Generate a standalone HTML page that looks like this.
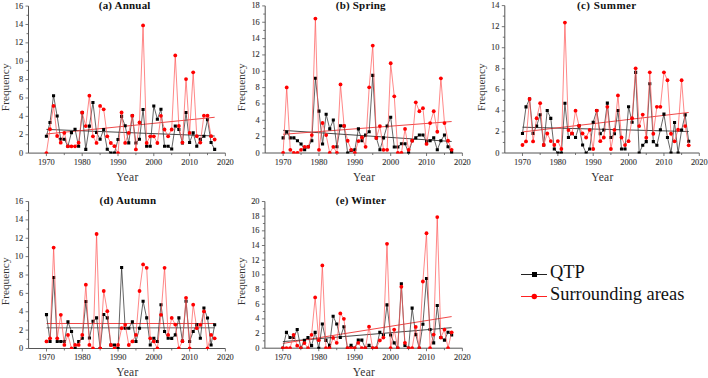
<!DOCTYPE html><html><head><meta charset="utf-8"><style>html,body{margin:0;padding:0;background:#fff;width:708px;height:378px;overflow:hidden}svg{display:block}text{font-family:"Liberation Serif",serif}</style></head><body><svg width="708" height="378" viewBox="0 0 708 378"><g><path d="M28.5 6.1V153.1H225.4" fill="none" stroke="#555" stroke-width="1"/><text x="23.1" y="155.6" font-size="8.4" text-anchor="end" fill="#333" stroke="#333" stroke-width="0.1">0</text><text x="23.1" y="137.22" font-size="8.4" text-anchor="end" fill="#333" stroke="#333" stroke-width="0.1">2</text><text x="23.1" y="118.85" font-size="8.4" text-anchor="end" fill="#333" stroke="#333" stroke-width="0.1">4</text><text x="23.1" y="100.47" font-size="8.4" text-anchor="end" fill="#333" stroke="#333" stroke-width="0.1">6</text><text x="23.1" y="82.1" font-size="8.4" text-anchor="end" fill="#333" stroke="#333" stroke-width="0.1">8</text><text x="23.1" y="63.72" font-size="8.4" text-anchor="end" fill="#333" stroke="#333" stroke-width="0.1">10</text><text x="23.1" y="45.35" font-size="8.4" text-anchor="end" fill="#333" stroke="#333" stroke-width="0.1">12</text><text x="23.1" y="26.97" font-size="8.4" text-anchor="end" fill="#333" stroke="#333" stroke-width="0.1">14</text><text x="23.1" y="8.6" font-size="8.4" text-anchor="end" fill="#333" stroke="#333" stroke-width="0.1">16</text><text x="46.4" y="164.6" font-size="8.4" text-anchor="middle" fill="#333" stroke="#333" stroke-width="0.1">1970</text><text x="82.2" y="164.6" font-size="8.4" text-anchor="middle" fill="#333" stroke="#333" stroke-width="0.1">1980</text><text x="118" y="164.6" font-size="8.4" text-anchor="middle" fill="#333" stroke="#333" stroke-width="0.1">1990</text><text x="153.8" y="164.6" font-size="8.4" text-anchor="middle" fill="#333" stroke="#333" stroke-width="0.1">2000</text><text x="189.6" y="164.6" font-size="8.4" text-anchor="middle" fill="#333" stroke="#333" stroke-width="0.1">2010</text><text x="225.4" y="164.6" font-size="8.4" text-anchor="middle" fill="#333" stroke="#333" stroke-width="0.1">2020</text><path d="M25.5 153.1H28.5M26.5 143.91H28.5M25.5 134.72H28.5M26.5 125.54H28.5M25.5 116.35H28.5M26.5 107.16H28.5M25.5 97.97H28.5M26.5 88.79H28.5M25.5 79.6H28.5M26.5 70.41H28.5M25.5 61.22H28.5M26.5 52.04H28.5M25.5 42.85H28.5M26.5 33.66H28.5M25.5 24.47H28.5M26.5 15.29H28.5M25.5 6.1H28.5M46.4 153.1V156.1M64.3 153.1V155.1M82.2 153.1V156.1M100.1 153.1V155.1M118 153.1V156.1M135.9 153.1V155.1M153.8 153.1V156.1M171.7 153.1V155.1M189.6 153.1V156.1M207.5 153.1V155.1M225.4 153.1V156.1" fill="none" stroke="#555" stroke-width="0.8"/><text x="98.8" y="8.7" font-size="11" font-weight="bold" letter-spacing="0.2" fill="#111">(a) Annual</text><text x="127.35" y="180.7" font-size="11.5" letter-spacing="0.3" text-anchor="middle" fill="#333">Year</text><text transform="translate(8.7 87.3) rotate(-90)" font-size="11.3" text-anchor="middle" fill="#333">Frequency</text><clipPath id="c0"><rect x="18.5" y="0" width="216.9" height="153.6"/></clipPath><g clip-path="url(#c0)"><line x1="46.4" y1="129.4" x2="214.66" y2="136.01" stroke="#333" stroke-width="0.9"/><line x1="46.4" y1="133.99" x2="214.66" y2="117.27" stroke="#e33" stroke-width="0.9"/><polyline points="46.4,136.29 49.98,122.51 53.56,95.68 57.14,115.98 60.72,139.23 64.3,139.23 67.88,146.3 71.46,132.61 75.04,129.21 78.62,146.3 82.2,112.67 85.78,149.42 89.36,126.09 92.94,102.57 96.52,132.52 100.1,139.23 103.68,129.49 107.26,149.24 110.84,153.1 114.42,153.1 118,139.5 121.58,116.35 125.16,125.81 128.74,142.9 132.32,115.71 135.9,142.99 139.48,139.23 143.06,109.46 146.64,146.21 150.22,146.21 153.8,105.97 157.38,119.2 160.96,109.28 164.54,146.21 168.12,146.21 171.7,148.97 175.28,126 178.86,129.49 182.44,142.9 186.02,112.49 189.6,142.53 193.18,132.89 196.76,146.3 200.34,139.41 203.92,136.19 207.5,119.75 211.08,142.53 214.66,149.42" fill="none" stroke="#333" stroke-width="0.75"/><path d="M44.85 134.74h3.1v3.1h-3.1zM48.43 120.96h3.1v3.1h-3.1zM52.01 94.13h3.1v3.1h-3.1zM55.59 114.43h3.1v3.1h-3.1zM59.17 137.68h3.1v3.1h-3.1zM62.75 137.68h3.1v3.1h-3.1zM66.33 144.75h3.1v3.1h-3.1zM69.91 131.06h3.1v3.1h-3.1zM73.49 127.66h3.1v3.1h-3.1zM77.07 144.75h3.1v3.1h-3.1zM80.65 111.12h3.1v3.1h-3.1zM84.23 147.87h3.1v3.1h-3.1zM87.81 124.54h3.1v3.1h-3.1zM91.39 101.02h3.1v3.1h-3.1zM94.97 130.97h3.1v3.1h-3.1zM98.55 137.68h3.1v3.1h-3.1zM102.13 127.94h3.1v3.1h-3.1zM105.71 147.69h3.1v3.1h-3.1zM109.29 151.55h3.1v3.1h-3.1zM112.87 151.55h3.1v3.1h-3.1zM116.45 137.95h3.1v3.1h-3.1zM120.03 114.8h3.1v3.1h-3.1zM123.61 124.26h3.1v3.1h-3.1zM127.19 141.35h3.1v3.1h-3.1zM130.77 114.16h3.1v3.1h-3.1zM134.35 141.44h3.1v3.1h-3.1zM137.93 137.68h3.1v3.1h-3.1zM141.51 107.91h3.1v3.1h-3.1zM145.09 144.66h3.1v3.1h-3.1zM148.67 144.66h3.1v3.1h-3.1zM152.25 104.42h3.1v3.1h-3.1zM155.83 117.65h3.1v3.1h-3.1zM159.41 107.73h3.1v3.1h-3.1zM162.99 144.66h3.1v3.1h-3.1zM166.57 144.66h3.1v3.1h-3.1zM170.15 147.42h3.1v3.1h-3.1zM173.73 124.45h3.1v3.1h-3.1zM177.31 127.94h3.1v3.1h-3.1zM180.89 141.35h3.1v3.1h-3.1zM184.47 110.94h3.1v3.1h-3.1zM188.05 140.98h3.1v3.1h-3.1zM191.63 131.34h3.1v3.1h-3.1zM195.21 144.75h3.1v3.1h-3.1zM198.79 137.86h3.1v3.1h-3.1zM202.37 134.64h3.1v3.1h-3.1zM205.95 118.2h3.1v3.1h-3.1zM209.53 140.98h3.1v3.1h-3.1zM213.11 147.87h3.1v3.1h-3.1z" fill="#000"/><polyline points="46.4,153.1 49.98,129.21 53.56,105.88 57.14,136.01 60.72,142.72 64.3,132.89 67.88,146.3 71.46,146.3 75.04,146.3 78.62,142.72 82.2,112.49 85.78,126.09 89.36,95.68 92.94,136.29 96.52,142.9 100.1,105.97 103.68,109.28 107.26,136.29 110.84,142.99 114.42,146.21 118,153.1 121.58,112.49 125.16,142.9 128.74,132.89 132.32,115.71 135.9,149.42 139.48,122.51 143.06,25.39 146.64,142.99 150.22,136.29 153.8,136.29 157.38,142.99 160.96,115.8 164.54,129.49 168.12,136.29 171.7,129.49 175.28,55.44 178.86,126 182.44,142.53 186.02,79.05 189.6,132.89 193.18,72.34 196.76,136.19 200.34,142.53 203.92,115.71 207.5,115.71 211.08,136.19 214.66,139.5" fill="none" stroke="#f55" stroke-width="0.7"/><circle cx="46.4" cy="153.1" r="1.9" fill="#f00"/><circle cx="49.98" cy="129.21" r="1.9" fill="#f00"/><circle cx="53.56" cy="105.88" r="1.9" fill="#f00"/><circle cx="57.14" cy="136.01" r="1.9" fill="#f00"/><circle cx="60.72" cy="142.72" r="1.9" fill="#f00"/><circle cx="64.3" cy="132.89" r="1.9" fill="#f00"/><circle cx="67.88" cy="146.3" r="1.9" fill="#f00"/><circle cx="71.46" cy="146.3" r="1.9" fill="#f00"/><circle cx="75.04" cy="146.3" r="1.9" fill="#f00"/><circle cx="78.62" cy="142.72" r="1.9" fill="#f00"/><circle cx="82.2" cy="112.49" r="1.9" fill="#f00"/><circle cx="85.78" cy="126.09" r="1.9" fill="#f00"/><circle cx="89.36" cy="95.68" r="1.9" fill="#f00"/><circle cx="92.94" cy="136.29" r="1.9" fill="#f00"/><circle cx="96.52" cy="142.9" r="1.9" fill="#f00"/><circle cx="100.1" cy="105.97" r="1.9" fill="#f00"/><circle cx="103.68" cy="109.28" r="1.9" fill="#f00"/><circle cx="107.26" cy="136.29" r="1.9" fill="#f00"/><circle cx="110.84" cy="142.99" r="1.9" fill="#f00"/><circle cx="114.42" cy="146.21" r="1.9" fill="#f00"/><circle cx="118" cy="153.1" r="1.9" fill="#f00"/><circle cx="121.58" cy="112.49" r="1.9" fill="#f00"/><circle cx="125.16" cy="142.9" r="1.9" fill="#f00"/><circle cx="128.74" cy="132.89" r="1.9" fill="#f00"/><circle cx="132.32" cy="115.71" r="1.9" fill="#f00"/><circle cx="135.9" cy="149.42" r="1.9" fill="#f00"/><circle cx="139.48" cy="122.51" r="1.9" fill="#f00"/><circle cx="143.06" cy="25.39" r="1.9" fill="#f00"/><circle cx="146.64" cy="142.99" r="1.9" fill="#f00"/><circle cx="150.22" cy="136.29" r="1.9" fill="#f00"/><circle cx="153.8" cy="136.29" r="1.9" fill="#f00"/><circle cx="157.38" cy="142.99" r="1.9" fill="#f00"/><circle cx="160.96" cy="115.8" r="1.9" fill="#f00"/><circle cx="164.54" cy="129.49" r="1.9" fill="#f00"/><circle cx="168.12" cy="136.29" r="1.9" fill="#f00"/><circle cx="171.7" cy="129.49" r="1.9" fill="#f00"/><circle cx="175.28" cy="55.44" r="1.9" fill="#f00"/><circle cx="178.86" cy="126" r="1.9" fill="#f00"/><circle cx="182.44" cy="142.53" r="1.9" fill="#f00"/><circle cx="186.02" cy="79.05" r="1.9" fill="#f00"/><circle cx="189.6" cy="132.89" r="1.9" fill="#f00"/><circle cx="193.18" cy="72.34" r="1.9" fill="#f00"/><circle cx="196.76" cy="136.19" r="1.9" fill="#f00"/><circle cx="200.34" cy="142.53" r="1.9" fill="#f00"/><circle cx="203.92" cy="115.71" r="1.9" fill="#f00"/><circle cx="207.5" cy="115.71" r="1.9" fill="#f00"/><circle cx="211.08" cy="136.19" r="1.9" fill="#f00"/><circle cx="214.66" cy="139.5" r="1.9" fill="#f00"/></g></g><g><path d="M265.2 5.9V153H462.4" fill="none" stroke="#555" stroke-width="1"/><text x="259.8" y="155.5" font-size="8.4" text-anchor="end" fill="#333" stroke="#333" stroke-width="0.1">0</text><text x="259.8" y="139.16" font-size="8.4" text-anchor="end" fill="#333" stroke="#333" stroke-width="0.1">2</text><text x="259.8" y="122.81" font-size="8.4" text-anchor="end" fill="#333" stroke="#333" stroke-width="0.1">4</text><text x="259.8" y="106.47" font-size="8.4" text-anchor="end" fill="#333" stroke="#333" stroke-width="0.1">6</text><text x="259.8" y="90.12" font-size="8.4" text-anchor="end" fill="#333" stroke="#333" stroke-width="0.1">8</text><text x="259.8" y="73.78" font-size="8.4" text-anchor="end" fill="#333" stroke="#333" stroke-width="0.1">10</text><text x="259.8" y="57.43" font-size="8.4" text-anchor="end" fill="#333" stroke="#333" stroke-width="0.1">12</text><text x="259.8" y="41.09" font-size="8.4" text-anchor="end" fill="#333" stroke="#333" stroke-width="0.1">14</text><text x="259.8" y="24.74" font-size="8.4" text-anchor="end" fill="#333" stroke="#333" stroke-width="0.1">16</text><text x="259.8" y="8.4" font-size="8.4" text-anchor="end" fill="#333" stroke="#333" stroke-width="0.1">18</text><text x="283.13" y="164.5" font-size="8.4" text-anchor="middle" fill="#333" stroke="#333" stroke-width="0.1">1970</text><text x="318.98" y="164.5" font-size="8.4" text-anchor="middle" fill="#333" stroke="#333" stroke-width="0.1">1980</text><text x="354.84" y="164.5" font-size="8.4" text-anchor="middle" fill="#333" stroke="#333" stroke-width="0.1">1990</text><text x="390.69" y="164.5" font-size="8.4" text-anchor="middle" fill="#333" stroke="#333" stroke-width="0.1">2000</text><text x="426.55" y="164.5" font-size="8.4" text-anchor="middle" fill="#333" stroke="#333" stroke-width="0.1">2010</text><text x="462.4" y="164.5" font-size="8.4" text-anchor="middle" fill="#333" stroke="#333" stroke-width="0.1">2020</text><path d="M262.2 153H265.2M263.2 144.83H265.2M262.2 136.66H265.2M263.2 128.48H265.2M262.2 120.31H265.2M263.2 112.14H265.2M262.2 103.97H265.2M263.2 95.79H265.2M262.2 87.62H265.2M263.2 79.45H265.2M262.2 71.28H265.2M263.2 63.11H265.2M262.2 54.93H265.2M263.2 46.76H265.2M262.2 38.59H265.2M263.2 30.42H265.2M262.2 22.24H265.2M263.2 14.07H265.2M262.2 5.9H265.2M283.13 153V156M301.05 153V155M318.98 153V156M336.91 153V155M354.84 153V156M372.76 153V155M390.69 153V156M408.62 153V155M426.55 153V156M444.47 153V155M462.4 153V156" fill="none" stroke="#555" stroke-width="0.8"/><text x="335.8" y="8.7" font-size="11" font-weight="bold" letter-spacing="0.2" fill="#111">(b) Spring</text><text x="364.2" y="180.6" font-size="11.5" letter-spacing="0.3" text-anchor="middle" fill="#333">Year</text><text transform="translate(245.4 87.3) rotate(-90)" font-size="11.3" text-anchor="middle" fill="#333">Frequency</text><clipPath id="c1"><rect x="255.2" y="0" width="217.2" height="153.5"/></clipPath><g clip-path="url(#c1)"><line x1="283.13" y1="130.36" x2="451.64" y2="141.48" stroke="#333" stroke-width="0.9"/><line x1="283.13" y1="134.29" x2="451.64" y2="121.54" stroke="#e33" stroke-width="0.9"/><polyline points="283.13,137.88 286.71,132 290.3,137.88 293.88,137.88 297.47,140.74 301.05,143.93 304.64,149.81 308.23,146.79 311.81,140.74 315.4,78.31 318.98,111.08 322.57,143.93 326.15,114.26 329.74,128.89 333.32,119.98 336.91,146.79 340.49,125.79 344.08,126.03 347.67,153 351.25,150.55 354.84,149.81 358.42,128.89 362.01,140.74 365.59,135.1 369.18,131.75 372.76,75.36 376.35,137.88 379.93,149.81 383.52,137.88 387.11,126.03 390.69,117.29 394.28,146.95 397.86,146.95 401.45,143.77 405.03,143.77 408.62,153 412.2,140.74 415.79,137.88 419.37,134.94 422.96,134.94 426.55,141.56 430.13,140.74 433.72,137.88 437.3,149.81 440.89,140.74 444.47,134.94 448.06,146.79 451.64,152.59" fill="none" stroke="#333" stroke-width="0.75"/><path d="M281.58 136.33h3.1v3.1h-3.1zM285.16 130.45h3.1v3.1h-3.1zM288.75 136.33h3.1v3.1h-3.1zM292.33 136.33h3.1v3.1h-3.1zM295.92 139.19h3.1v3.1h-3.1zM299.5 142.38h3.1v3.1h-3.1zM303.09 148.26h3.1v3.1h-3.1zM306.68 145.24h3.1v3.1h-3.1zM310.26 139.19h3.1v3.1h-3.1zM313.85 76.76h3.1v3.1h-3.1zM317.43 109.53h3.1v3.1h-3.1zM321.02 142.38h3.1v3.1h-3.1zM324.6 112.71h3.1v3.1h-3.1zM328.19 127.34h3.1v3.1h-3.1zM331.77 118.43h3.1v3.1h-3.1zM335.36 145.24h3.1v3.1h-3.1zM338.94 124.24h3.1v3.1h-3.1zM342.53 124.48h3.1v3.1h-3.1zM346.12 151.45h3.1v3.1h-3.1zM349.7 149h3.1v3.1h-3.1zM353.29 148.26h3.1v3.1h-3.1zM356.87 127.34h3.1v3.1h-3.1zM360.46 139.19h3.1v3.1h-3.1zM364.04 133.55h3.1v3.1h-3.1zM367.63 130.2h3.1v3.1h-3.1zM371.21 73.81h3.1v3.1h-3.1zM374.8 136.33h3.1v3.1h-3.1zM378.38 148.26h3.1v3.1h-3.1zM381.97 136.33h3.1v3.1h-3.1zM385.56 124.48h3.1v3.1h-3.1zM389.14 115.74h3.1v3.1h-3.1zM392.73 145.4h3.1v3.1h-3.1zM396.31 145.4h3.1v3.1h-3.1zM399.9 142.22h3.1v3.1h-3.1zM403.48 142.22h3.1v3.1h-3.1zM407.07 151.45h3.1v3.1h-3.1zM410.65 139.19h3.1v3.1h-3.1zM414.24 136.33h3.1v3.1h-3.1zM417.82 133.39h3.1v3.1h-3.1zM421.41 133.39h3.1v3.1h-3.1zM425 140.01h3.1v3.1h-3.1zM428.58 139.19h3.1v3.1h-3.1zM432.17 136.33h3.1v3.1h-3.1zM435.75 148.26h3.1v3.1h-3.1zM439.34 139.19h3.1v3.1h-3.1zM442.92 133.39h3.1v3.1h-3.1zM446.51 145.24h3.1v3.1h-3.1zM450.09 151.04h3.1v3.1h-3.1z" fill="#000"/><polyline points="283.13,153 286.71,87.38 290.3,149.81 293.88,153 297.47,153 301.05,149.81 304.64,146.79 308.23,146.79 311.81,135.1 315.4,18.57 318.98,149.81 322.57,123.01 326.15,135.1 329.74,153 333.32,146.79 336.91,153 340.49,84.44 344.08,125.79 347.67,140.74 351.25,149.81 354.84,153 358.42,141.07 362.01,137.47 365.59,146.79 369.18,87.3 372.76,45.62 376.35,137.88 379.93,126.03 383.52,149.81 387.11,149.81 390.69,63.27 394.28,96.28 397.86,153 401.45,153 405.03,128.97 408.62,149.81 412.2,140.74 415.79,102.33 419.37,111.24 422.96,108.22 426.55,143.93 430.13,123.09 433.72,111.24 437.3,131.75 440.89,78.31 444.47,123.09 448.06,140.74 451.64,149.81" fill="none" stroke="#f55" stroke-width="0.7"/><circle cx="283.13" cy="153" r="1.9" fill="#f00"/><circle cx="286.71" cy="87.38" r="1.9" fill="#f00"/><circle cx="290.3" cy="149.81" r="1.9" fill="#f00"/><circle cx="293.88" cy="153" r="1.9" fill="#f00"/><circle cx="297.47" cy="153" r="1.9" fill="#f00"/><circle cx="301.05" cy="149.81" r="1.9" fill="#f00"/><circle cx="304.64" cy="146.79" r="1.9" fill="#f00"/><circle cx="308.23" cy="146.79" r="1.9" fill="#f00"/><circle cx="311.81" cy="135.1" r="1.9" fill="#f00"/><circle cx="315.4" cy="18.57" r="1.9" fill="#f00"/><circle cx="318.98" cy="149.81" r="1.9" fill="#f00"/><circle cx="322.57" cy="123.01" r="1.9" fill="#f00"/><circle cx="326.15" cy="135.1" r="1.9" fill="#f00"/><circle cx="329.74" cy="153" r="1.9" fill="#f00"/><circle cx="333.32" cy="146.79" r="1.9" fill="#f00"/><circle cx="336.91" cy="153" r="1.9" fill="#f00"/><circle cx="340.49" cy="84.44" r="1.9" fill="#f00"/><circle cx="344.08" cy="125.79" r="1.9" fill="#f00"/><circle cx="347.67" cy="140.74" r="1.9" fill="#f00"/><circle cx="351.25" cy="149.81" r="1.9" fill="#f00"/><circle cx="354.84" cy="153" r="1.9" fill="#f00"/><circle cx="358.42" cy="141.07" r="1.9" fill="#f00"/><circle cx="362.01" cy="137.47" r="1.9" fill="#f00"/><circle cx="365.59" cy="146.79" r="1.9" fill="#f00"/><circle cx="369.18" cy="87.3" r="1.9" fill="#f00"/><circle cx="372.76" cy="45.62" r="1.9" fill="#f00"/><circle cx="376.35" cy="137.88" r="1.9" fill="#f00"/><circle cx="379.93" cy="126.03" r="1.9" fill="#f00"/><circle cx="383.52" cy="149.81" r="1.9" fill="#f00"/><circle cx="387.11" cy="149.81" r="1.9" fill="#f00"/><circle cx="390.69" cy="63.27" r="1.9" fill="#f00"/><circle cx="394.28" cy="96.28" r="1.9" fill="#f00"/><circle cx="397.86" cy="153" r="1.9" fill="#f00"/><circle cx="401.45" cy="153" r="1.9" fill="#f00"/><circle cx="405.03" cy="128.97" r="1.9" fill="#f00"/><circle cx="408.62" cy="149.81" r="1.9" fill="#f00"/><circle cx="412.2" cy="140.74" r="1.9" fill="#f00"/><circle cx="415.79" cy="102.33" r="1.9" fill="#f00"/><circle cx="419.37" cy="111.24" r="1.9" fill="#f00"/><circle cx="422.96" cy="108.22" r="1.9" fill="#f00"/><circle cx="426.55" cy="143.93" r="1.9" fill="#f00"/><circle cx="430.13" cy="123.09" r="1.9" fill="#f00"/><circle cx="433.72" cy="111.24" r="1.9" fill="#f00"/><circle cx="437.3" cy="131.75" r="1.9" fill="#f00"/><circle cx="440.89" cy="78.31" r="1.9" fill="#f00"/><circle cx="444.47" cy="123.09" r="1.9" fill="#f00"/><circle cx="448.06" cy="140.74" r="1.9" fill="#f00"/><circle cx="451.64" cy="149.81" r="1.9" fill="#f00"/></g></g><g><path d="M504.8 5.6V153H699.3" fill="none" stroke="#555" stroke-width="1"/><text x="499.4" y="155.5" font-size="8.4" text-anchor="end" fill="#333" stroke="#333" stroke-width="0.1">0</text><text x="499.4" y="134.44" font-size="8.4" text-anchor="end" fill="#333" stroke="#333" stroke-width="0.1">2</text><text x="499.4" y="113.39" font-size="8.4" text-anchor="end" fill="#333" stroke="#333" stroke-width="0.1">4</text><text x="499.4" y="92.33" font-size="8.4" text-anchor="end" fill="#333" stroke="#333" stroke-width="0.1">6</text><text x="499.4" y="71.27" font-size="8.4" text-anchor="end" fill="#333" stroke="#333" stroke-width="0.1">8</text><text x="499.4" y="50.21" font-size="8.4" text-anchor="end" fill="#333" stroke="#333" stroke-width="0.1">10</text><text x="499.4" y="29.16" font-size="8.4" text-anchor="end" fill="#333" stroke="#333" stroke-width="0.1">12</text><text x="499.4" y="8.1" font-size="8.4" text-anchor="end" fill="#333" stroke="#333" stroke-width="0.1">14</text><text x="522.48" y="164.5" font-size="8.4" text-anchor="middle" fill="#333" stroke="#333" stroke-width="0.1">1970</text><text x="557.85" y="164.5" font-size="8.4" text-anchor="middle" fill="#333" stroke="#333" stroke-width="0.1">1980</text><text x="593.21" y="164.5" font-size="8.4" text-anchor="middle" fill="#333" stroke="#333" stroke-width="0.1">1990</text><text x="628.57" y="164.5" font-size="8.4" text-anchor="middle" fill="#333" stroke="#333" stroke-width="0.1">2000</text><text x="663.94" y="164.5" font-size="8.4" text-anchor="middle" fill="#333" stroke="#333" stroke-width="0.1">2010</text><text x="699.3" y="164.5" font-size="8.4" text-anchor="middle" fill="#333" stroke="#333" stroke-width="0.1">2020</text><path d="M501.8 153H504.8M502.8 142.47H504.8M501.8 131.94H504.8M502.8 121.41H504.8M501.8 110.89H504.8M502.8 100.36H504.8M501.8 89.83H504.8M502.8 79.3H504.8M501.8 68.77H504.8M502.8 58.24H504.8M501.8 47.71H504.8M502.8 37.19H504.8M501.8 26.66H504.8M502.8 16.13H504.8M501.8 5.6H504.8M522.48 153V156M540.16 153V155M557.85 153V156M575.53 153V155M593.21 153V156M610.89 153V155M628.57 153V156M646.25 153V155M663.94 153V156M681.62 153V155M699.3 153V156" fill="none" stroke="#555" stroke-width="0.8"/><text x="576.9" y="8.7" font-size="11" font-weight="bold" letter-spacing="0.45" fill="#111">(c) Summer</text><text x="602.45" y="180.6" font-size="11.5" letter-spacing="0.3" text-anchor="middle" fill="#333">Year</text><text transform="translate(485 87.1) rotate(-90)" font-size="11.3" text-anchor="middle" fill="#333">Frequency</text><clipPath id="c2"><rect x="494.8" y="0" width="214.5" height="153.5"/></clipPath><g clip-path="url(#c2)"><line x1="522.48" y1="127.2" x2="688.69" y2="131.52" stroke="#333" stroke-width="0.9"/><line x1="522.48" y1="131.94" x2="688.69" y2="112.47" stroke="#e33" stroke-width="0.9"/><polyline points="522.48,133.52 526.02,106.88 529.55,98.99 533.09,133.52 536.63,125.94 540.16,114.78 543.7,145 547.24,110.46 550.77,118.36 554.31,149 557.85,153 561.38,153 564.92,103.2 568.45,137.52 571.99,133.52 575.53,137.52 579.06,125.84 582.6,145 586.14,153 589.67,149 593.21,122.26 596.75,110.57 600.28,133.73 603.82,129.94 607.35,103.09 610.89,137.52 614.43,133.73 617.96,110.46 621.5,149 625.04,149 628.57,106.78 632.11,122.26 635.65,72.35 639.18,153 642.72,145.31 646.25,141.63 649.79,83.72 653.33,141.63 656.86,145.31 660.4,129.73 663.94,114.15 667.47,137.52 671.01,153 674.55,122.47 678.08,153 681.62,130.05 685.15,114.89 688.69,141.31" fill="none" stroke="#333" stroke-width="0.75"/><path d="M520.93 131.97h3.1v3.1h-3.1zM524.47 105.33h3.1v3.1h-3.1zM528 97.44h3.1v3.1h-3.1zM531.54 131.97h3.1v3.1h-3.1zM535.08 124.39h3.1v3.1h-3.1zM538.61 113.23h3.1v3.1h-3.1zM542.15 143.45h3.1v3.1h-3.1zM545.69 108.91h3.1v3.1h-3.1zM549.22 116.81h3.1v3.1h-3.1zM552.76 147.45h3.1v3.1h-3.1zM556.3 151.45h3.1v3.1h-3.1zM559.83 151.45h3.1v3.1h-3.1zM563.37 101.65h3.1v3.1h-3.1zM566.9 135.97h3.1v3.1h-3.1zM570.44 131.97h3.1v3.1h-3.1zM573.98 135.97h3.1v3.1h-3.1zM577.51 124.29h3.1v3.1h-3.1zM581.05 143.45h3.1v3.1h-3.1zM584.59 151.45h3.1v3.1h-3.1zM588.12 147.45h3.1v3.1h-3.1zM591.66 120.71h3.1v3.1h-3.1zM595.2 109.02h3.1v3.1h-3.1zM598.73 132.18h3.1v3.1h-3.1zM602.27 128.39h3.1v3.1h-3.1zM605.8 101.54h3.1v3.1h-3.1zM609.34 135.97h3.1v3.1h-3.1zM612.88 132.18h3.1v3.1h-3.1zM616.41 108.91h3.1v3.1h-3.1zM619.95 147.45h3.1v3.1h-3.1zM623.49 147.45h3.1v3.1h-3.1zM627.02 105.23h3.1v3.1h-3.1zM630.56 120.71h3.1v3.1h-3.1zM634.1 70.8h3.1v3.1h-3.1zM637.63 151.45h3.1v3.1h-3.1zM641.17 143.76h3.1v3.1h-3.1zM644.7 140.08h3.1v3.1h-3.1zM648.24 82.17h3.1v3.1h-3.1zM651.78 140.08h3.1v3.1h-3.1zM655.31 143.76h3.1v3.1h-3.1zM658.85 128.18h3.1v3.1h-3.1zM662.39 112.6h3.1v3.1h-3.1zM665.92 135.97h3.1v3.1h-3.1zM669.46 151.45h3.1v3.1h-3.1zM673 120.92h3.1v3.1h-3.1zM676.53 151.45h3.1v3.1h-3.1zM680.07 128.5h3.1v3.1h-3.1zM683.6 113.34h3.1v3.1h-3.1zM687.14 139.76h3.1v3.1h-3.1z" fill="#000"/><polyline points="522.48,145 526.02,141.42 529.55,98.99 533.09,141.42 536.63,118.26 540.16,103.2 543.7,145 547.24,133.52 550.77,141.1 554.31,145 557.85,141.1 561.38,149 564.92,22.55 568.45,130.05 571.99,133.52 575.53,110.68 579.06,125.84 582.6,133.52 586.14,137.52 589.67,129.94 593.21,149 596.75,110.57 600.28,141.21 603.82,137.52 607.35,106.78 610.89,149 614.43,129.94 617.96,95.41 621.5,137.52 625.04,145.1 628.57,141.21 632.11,118.15 635.65,68.35 639.18,126.05 642.72,114.57 646.25,137.73 649.79,72.35 653.33,133.73 656.86,106.78 660.4,106.78 663.94,72.35 667.47,80.25 671.01,133.73 674.55,141.31 678.08,129.73 681.62,80.25 685.15,126.05 688.69,145.31" fill="none" stroke="#f55" stroke-width="0.7"/><circle cx="522.48" cy="145" r="1.9" fill="#f00"/><circle cx="526.02" cy="141.42" r="1.9" fill="#f00"/><circle cx="529.55" cy="98.99" r="1.9" fill="#f00"/><circle cx="533.09" cy="141.42" r="1.9" fill="#f00"/><circle cx="536.63" cy="118.26" r="1.9" fill="#f00"/><circle cx="540.16" cy="103.2" r="1.9" fill="#f00"/><circle cx="543.7" cy="145" r="1.9" fill="#f00"/><circle cx="547.24" cy="133.52" r="1.9" fill="#f00"/><circle cx="550.77" cy="141.1" r="1.9" fill="#f00"/><circle cx="554.31" cy="145" r="1.9" fill="#f00"/><circle cx="557.85" cy="141.1" r="1.9" fill="#f00"/><circle cx="561.38" cy="149" r="1.9" fill="#f00"/><circle cx="564.92" cy="22.55" r="1.9" fill="#f00"/><circle cx="568.45" cy="130.05" r="1.9" fill="#f00"/><circle cx="571.99" cy="133.52" r="1.9" fill="#f00"/><circle cx="575.53" cy="110.68" r="1.9" fill="#f00"/><circle cx="579.06" cy="125.84" r="1.9" fill="#f00"/><circle cx="582.6" cy="133.52" r="1.9" fill="#f00"/><circle cx="586.14" cy="137.52" r="1.9" fill="#f00"/><circle cx="589.67" cy="129.94" r="1.9" fill="#f00"/><circle cx="593.21" cy="149" r="1.9" fill="#f00"/><circle cx="596.75" cy="110.57" r="1.9" fill="#f00"/><circle cx="600.28" cy="141.21" r="1.9" fill="#f00"/><circle cx="603.82" cy="137.52" r="1.9" fill="#f00"/><circle cx="607.35" cy="106.78" r="1.9" fill="#f00"/><circle cx="610.89" cy="149" r="1.9" fill="#f00"/><circle cx="614.43" cy="129.94" r="1.9" fill="#f00"/><circle cx="617.96" cy="95.41" r="1.9" fill="#f00"/><circle cx="621.5" cy="137.52" r="1.9" fill="#f00"/><circle cx="625.04" cy="145.1" r="1.9" fill="#f00"/><circle cx="628.57" cy="141.21" r="1.9" fill="#f00"/><circle cx="632.11" cy="118.15" r="1.9" fill="#f00"/><circle cx="635.65" cy="68.35" r="1.9" fill="#f00"/><circle cx="639.18" cy="126.05" r="1.9" fill="#f00"/><circle cx="642.72" cy="114.57" r="1.9" fill="#f00"/><circle cx="646.25" cy="137.73" r="1.9" fill="#f00"/><circle cx="649.79" cy="72.35" r="1.9" fill="#f00"/><circle cx="653.33" cy="133.73" r="1.9" fill="#f00"/><circle cx="656.86" cy="106.78" r="1.9" fill="#f00"/><circle cx="660.4" cy="106.78" r="1.9" fill="#f00"/><circle cx="663.94" cy="72.35" r="1.9" fill="#f00"/><circle cx="667.47" cy="80.25" r="1.9" fill="#f00"/><circle cx="671.01" cy="133.73" r="1.9" fill="#f00"/><circle cx="674.55" cy="141.31" r="1.9" fill="#f00"/><circle cx="678.08" cy="129.73" r="1.9" fill="#f00"/><circle cx="681.62" cy="80.25" r="1.9" fill="#f00"/><circle cx="685.15" cy="126.05" r="1.9" fill="#f00"/><circle cx="688.69" cy="145.31" r="1.9" fill="#f00"/></g></g><g><path d="M28.6 201.5V348.5H225.4" fill="none" stroke="#555" stroke-width="1"/><text x="23.2" y="351" font-size="8.4" text-anchor="end" fill="#333" stroke="#333" stroke-width="0.1">0</text><text x="23.2" y="332.62" font-size="8.4" text-anchor="end" fill="#333" stroke="#333" stroke-width="0.1">2</text><text x="23.2" y="314.25" font-size="8.4" text-anchor="end" fill="#333" stroke="#333" stroke-width="0.1">4</text><text x="23.2" y="295.88" font-size="8.4" text-anchor="end" fill="#333" stroke="#333" stroke-width="0.1">6</text><text x="23.2" y="277.5" font-size="8.4" text-anchor="end" fill="#333" stroke="#333" stroke-width="0.1">8</text><text x="23.2" y="259.12" font-size="8.4" text-anchor="end" fill="#333" stroke="#333" stroke-width="0.1">10</text><text x="23.2" y="240.75" font-size="8.4" text-anchor="end" fill="#333" stroke="#333" stroke-width="0.1">12</text><text x="23.2" y="222.38" font-size="8.4" text-anchor="end" fill="#333" stroke="#333" stroke-width="0.1">14</text><text x="23.2" y="204" font-size="8.4" text-anchor="end" fill="#333" stroke="#333" stroke-width="0.1">16</text><text x="46.49" y="360" font-size="8.4" text-anchor="middle" fill="#333" stroke="#333" stroke-width="0.1">1970</text><text x="82.27" y="360" font-size="8.4" text-anchor="middle" fill="#333" stroke="#333" stroke-width="0.1">1980</text><text x="118.05" y="360" font-size="8.4" text-anchor="middle" fill="#333" stroke="#333" stroke-width="0.1">1990</text><text x="153.84" y="360" font-size="8.4" text-anchor="middle" fill="#333" stroke="#333" stroke-width="0.1">2000</text><text x="189.62" y="360" font-size="8.4" text-anchor="middle" fill="#333" stroke="#333" stroke-width="0.1">2010</text><text x="225.4" y="360" font-size="8.4" text-anchor="middle" fill="#333" stroke="#333" stroke-width="0.1">2020</text><path d="M25.6 348.5H28.6M26.6 339.31H28.6M25.6 330.12H28.6M26.6 320.94H28.6M25.6 311.75H28.6M26.6 302.56H28.6M25.6 293.38H28.6M26.6 284.19H28.6M25.6 275H28.6M26.6 265.81H28.6M25.6 256.62H28.6M26.6 247.44H28.6M25.6 238.25H28.6M26.6 229.06H28.6M25.6 219.88H28.6M26.6 210.69H28.6M25.6 201.5H28.6M46.49 348.5V351.5M64.38 348.5V350.5M82.27 348.5V351.5M100.16 348.5V350.5M118.05 348.5V351.5M135.95 348.5V350.5M153.84 348.5V351.5M171.73 348.5V350.5M189.62 348.5V351.5M207.51 348.5V350.5M225.4 348.5V351.5" fill="none" stroke="#555" stroke-width="0.8"/><text x="99.6" y="204.2" font-size="11" font-weight="bold" letter-spacing="0.2" fill="#111">(d) Autumn</text><text x="127.4" y="376.1" font-size="11.5" letter-spacing="0.3" text-anchor="middle" fill="#333">Year</text><text transform="translate(8.8 281.3) rotate(-90)" font-size="11.3" text-anchor="middle" fill="#333">Frequency</text><clipPath id="c3"><rect x="18.6" y="0" width="216.8" height="349"/></clipPath><g clip-path="url(#c3)"><line x1="46.49" y1="327.74" x2="214.67" y2="327.74" stroke="#999" stroke-width="1.6"/><line x1="46.49" y1="323.51" x2="214.67" y2="323.51" stroke="#e33" stroke-width="0.9"/><polyline points="46.49,314.6 50.07,341.43 53.65,277.57 57.23,341.43 60.8,341.43 64.38,341.43 67.96,321.86 71.54,331.5 75.12,348.5 78.69,341.43 82.27,338.3 85.85,301.46 89.43,338.03 93.01,321.31 96.59,317.91 100.16,348.5 103.74,314.51 107.32,317.91 110.9,345.01 114.48,345.01 118.05,348.5 121.63,267.47 125.21,328.2 128.79,328.2 132.37,321.86 135.95,341.43 139.52,328.2 143.1,301.28 146.68,317.91 150.26,345.01 153.84,338.3 157.41,341.43 160.99,304.68 164.57,331.5 168.15,338.3 171.73,338.39 175.31,334.9 178.88,317.91 182.46,341.15 186.04,301.28 189.62,341.43 193.2,331.5 196.77,324.61 200.35,338.3 203.93,308.07 207.51,318 211.09,345.01 214.67,324.8" fill="none" stroke="#333" stroke-width="0.75"/><path d="M44.94 313.05h3.1v3.1h-3.1zM48.52 339.88h3.1v3.1h-3.1zM52.1 276.02h3.1v3.1h-3.1zM55.68 339.88h3.1v3.1h-3.1zM59.25 339.88h3.1v3.1h-3.1zM62.83 339.88h3.1v3.1h-3.1zM66.41 320.31h3.1v3.1h-3.1zM69.99 329.95h3.1v3.1h-3.1zM73.57 346.95h3.1v3.1h-3.1zM77.14 339.88h3.1v3.1h-3.1zM80.72 336.75h3.1v3.1h-3.1zM84.3 299.91h3.1v3.1h-3.1zM87.88 336.48h3.1v3.1h-3.1zM91.46 319.75h3.1v3.1h-3.1zM95.04 316.36h3.1v3.1h-3.1zM98.61 346.95h3.1v3.1h-3.1zM102.19 312.96h3.1v3.1h-3.1zM105.77 316.36h3.1v3.1h-3.1zM109.35 343.46h3.1v3.1h-3.1zM112.93 343.46h3.1v3.1h-3.1zM116.5 346.95h3.1v3.1h-3.1zM120.08 265.92h3.1v3.1h-3.1zM123.66 326.65h3.1v3.1h-3.1zM127.24 326.65h3.1v3.1h-3.1zM130.82 320.31h3.1v3.1h-3.1zM134.4 339.88h3.1v3.1h-3.1zM137.97 326.65h3.1v3.1h-3.1zM141.55 299.73h3.1v3.1h-3.1zM145.13 316.36h3.1v3.1h-3.1zM148.71 343.46h3.1v3.1h-3.1zM152.29 336.75h3.1v3.1h-3.1zM155.86 339.88h3.1v3.1h-3.1zM159.44 303.13h3.1v3.1h-3.1zM163.02 329.95h3.1v3.1h-3.1zM166.6 336.75h3.1v3.1h-3.1zM170.18 336.84h3.1v3.1h-3.1zM173.76 333.35h3.1v3.1h-3.1zM177.33 316.36h3.1v3.1h-3.1zM180.91 339.6h3.1v3.1h-3.1zM184.49 299.73h3.1v3.1h-3.1zM188.07 339.88h3.1v3.1h-3.1zM191.65 329.95h3.1v3.1h-3.1zM195.22 323.06h3.1v3.1h-3.1zM198.8 336.75h3.1v3.1h-3.1zM202.38 306.52h3.1v3.1h-3.1zM205.96 316.45h3.1v3.1h-3.1zM209.54 343.46h3.1v3.1h-3.1zM213.12 323.25h3.1v3.1h-3.1z" fill="#000"/><polyline points="46.49,341.43 50.07,338.3 53.65,247.62 57.23,338.3 60.8,314.78 64.38,344.92 67.96,334.9 71.54,348.5 75.12,344.92 78.69,344.92 82.27,334.9 85.85,284.65 89.43,344.92 93.01,348.5 96.59,234.02 100.16,348.5 103.74,290.99 107.32,311.2 110.9,345.01 114.48,348.5 118.05,345.01 121.63,328.2 125.21,324.8 128.79,345.01 132.37,341.43 135.95,334.9 139.52,290.99 143.1,264.43 146.68,267.83 150.26,338.3 153.84,341.43 157.41,348.5 160.99,314.78 164.57,267.83 168.15,334.9 171.73,317.91 175.31,324.61 178.88,348.5 182.46,341.15 186.04,297.79 189.62,348.5 193.2,304.68 196.77,328.2 200.35,324.8 203.93,311.38 207.51,348.5 211.09,334.9 214.67,338.3" fill="none" stroke="#f55" stroke-width="0.7"/><circle cx="46.49" cy="341.43" r="1.9" fill="#f00"/><circle cx="50.07" cy="338.3" r="1.9" fill="#f00"/><circle cx="53.65" cy="247.62" r="1.9" fill="#f00"/><circle cx="57.23" cy="338.3" r="1.9" fill="#f00"/><circle cx="60.8" cy="314.78" r="1.9" fill="#f00"/><circle cx="64.38" cy="344.92" r="1.9" fill="#f00"/><circle cx="67.96" cy="334.9" r="1.9" fill="#f00"/><circle cx="71.54" cy="348.5" r="1.9" fill="#f00"/><circle cx="75.12" cy="344.92" r="1.9" fill="#f00"/><circle cx="78.69" cy="344.92" r="1.9" fill="#f00"/><circle cx="82.27" cy="334.9" r="1.9" fill="#f00"/><circle cx="85.85" cy="284.65" r="1.9" fill="#f00"/><circle cx="89.43" cy="344.92" r="1.9" fill="#f00"/><circle cx="93.01" cy="348.5" r="1.9" fill="#f00"/><circle cx="96.59" cy="234.02" r="1.9" fill="#f00"/><circle cx="100.16" cy="348.5" r="1.9" fill="#f00"/><circle cx="103.74" cy="290.99" r="1.9" fill="#f00"/><circle cx="107.32" cy="311.2" r="1.9" fill="#f00"/><circle cx="110.9" cy="345.01" r="1.9" fill="#f00"/><circle cx="114.48" cy="348.5" r="1.9" fill="#f00"/><circle cx="118.05" cy="345.01" r="1.9" fill="#f00"/><circle cx="121.63" cy="328.2" r="1.9" fill="#f00"/><circle cx="125.21" cy="324.8" r="1.9" fill="#f00"/><circle cx="128.79" cy="345.01" r="1.9" fill="#f00"/><circle cx="132.37" cy="341.43" r="1.9" fill="#f00"/><circle cx="135.95" cy="334.9" r="1.9" fill="#f00"/><circle cx="139.52" cy="290.99" r="1.9" fill="#f00"/><circle cx="143.1" cy="264.43" r="1.9" fill="#f00"/><circle cx="146.68" cy="267.83" r="1.9" fill="#f00"/><circle cx="150.26" cy="338.3" r="1.9" fill="#f00"/><circle cx="153.84" cy="341.43" r="1.9" fill="#f00"/><circle cx="157.41" cy="348.5" r="1.9" fill="#f00"/><circle cx="160.99" cy="314.78" r="1.9" fill="#f00"/><circle cx="164.57" cy="267.83" r="1.9" fill="#f00"/><circle cx="168.15" cy="334.9" r="1.9" fill="#f00"/><circle cx="171.73" cy="317.91" r="1.9" fill="#f00"/><circle cx="175.31" cy="324.61" r="1.9" fill="#f00"/><circle cx="178.88" cy="348.5" r="1.9" fill="#f00"/><circle cx="182.46" cy="341.15" r="1.9" fill="#f00"/><circle cx="186.04" cy="297.79" r="1.9" fill="#f00"/><circle cx="189.62" cy="348.5" r="1.9" fill="#f00"/><circle cx="193.2" cy="304.68" r="1.9" fill="#f00"/><circle cx="196.77" cy="328.2" r="1.9" fill="#f00"/><circle cx="200.35" cy="324.8" r="1.9" fill="#f00"/><circle cx="203.93" cy="311.38" r="1.9" fill="#f00"/><circle cx="207.51" cy="348.5" r="1.9" fill="#f00"/><circle cx="211.09" cy="334.9" r="1.9" fill="#f00"/><circle cx="214.67" cy="338.3" r="1.9" fill="#f00"/></g></g><g><path d="M264.9 201.5V348.2H462.4" fill="none" stroke="#555" stroke-width="1"/><text x="259.5" y="350.7" font-size="8.4" text-anchor="end" fill="#333" stroke="#333" stroke-width="0.1">0</text><text x="259.5" y="336.03" font-size="8.4" text-anchor="end" fill="#333" stroke="#333" stroke-width="0.1">2</text><text x="259.5" y="321.36" font-size="8.4" text-anchor="end" fill="#333" stroke="#333" stroke-width="0.1">4</text><text x="259.5" y="306.69" font-size="8.4" text-anchor="end" fill="#333" stroke="#333" stroke-width="0.1">6</text><text x="259.5" y="292.02" font-size="8.4" text-anchor="end" fill="#333" stroke="#333" stroke-width="0.1">8</text><text x="259.5" y="277.35" font-size="8.4" text-anchor="end" fill="#333" stroke="#333" stroke-width="0.1">10</text><text x="259.5" y="262.68" font-size="8.4" text-anchor="end" fill="#333" stroke="#333" stroke-width="0.1">12</text><text x="259.5" y="248.01" font-size="8.4" text-anchor="end" fill="#333" stroke="#333" stroke-width="0.1">14</text><text x="259.5" y="233.34" font-size="8.4" text-anchor="end" fill="#333" stroke="#333" stroke-width="0.1">16</text><text x="259.5" y="218.67" font-size="8.4" text-anchor="end" fill="#333" stroke="#333" stroke-width="0.1">18</text><text x="259.5" y="204" font-size="8.4" text-anchor="end" fill="#333" stroke="#333" stroke-width="0.1">20</text><text x="282.85" y="359.7" font-size="8.4" text-anchor="middle" fill="#333" stroke="#333" stroke-width="0.1">1970</text><text x="318.76" y="359.7" font-size="8.4" text-anchor="middle" fill="#333" stroke="#333" stroke-width="0.1">1980</text><text x="354.67" y="359.7" font-size="8.4" text-anchor="middle" fill="#333" stroke="#333" stroke-width="0.1">1990</text><text x="390.58" y="359.7" font-size="8.4" text-anchor="middle" fill="#333" stroke="#333" stroke-width="0.1">2000</text><text x="426.49" y="359.7" font-size="8.4" text-anchor="middle" fill="#333" stroke="#333" stroke-width="0.1">2010</text><text x="462.4" y="359.7" font-size="8.4" text-anchor="middle" fill="#333" stroke="#333" stroke-width="0.1">2020</text><path d="M261.9 348.2H264.9M262.9 340.87H264.9M261.9 333.53H264.9M262.9 326.19H264.9M261.9 318.86H264.9M262.9 311.52H264.9M261.9 304.19H264.9M262.9 296.86H264.9M261.9 289.52H264.9M262.9 282.19H264.9M261.9 274.85H264.9M262.9 267.51H264.9M261.9 260.18H264.9M262.9 252.84H264.9M261.9 245.51H264.9M262.9 238.18H264.9M261.9 230.84H264.9M262.9 223.5H264.9M261.9 216.17H264.9M262.9 208.84H264.9M261.9 201.5H264.9M282.85 348.2V351.2M300.81 348.2V350.2M318.76 348.2V351.2M336.72 348.2V350.2M354.67 348.2V351.2M372.63 348.2V350.2M390.58 348.2V351.2M408.54 348.2V350.2M426.49 348.2V351.2M444.45 348.2V350.2M462.4 348.2V351.2" fill="none" stroke="#555" stroke-width="0.8"/><text x="335.8" y="204.2" font-size="11" font-weight="bold" letter-spacing="0.2" fill="#111">(e) Winter</text><text x="364.05" y="375.8" font-size="11.5" letter-spacing="0.3" text-anchor="middle" fill="#333">Year</text><text transform="translate(245.1 281.3) rotate(-90)" font-size="11.3" text-anchor="middle" fill="#333">Frequency</text><clipPath id="c4"><rect x="254.9" y="0" width="217.5" height="348.7"/></clipPath><g clip-path="url(#c4)"><line x1="282.85" y1="341.6" x2="451.63" y2="327.66" stroke="#333" stroke-width="0.9"/><line x1="282.85" y1="343.43" x2="451.63" y2="316.59" stroke="#e33" stroke-width="0.9"/><polyline points="282.85,348.2 286.45,332.36 290.04,337.56 293.63,337.56 297.22,329.57 300.81,348.2 304.4,340.2 307.99,337.56 311.58,345.63 315.17,332.36 318.76,348.2 322.35,324.07 325.95,340.35 329.54,345.41 333.13,316.22 336.72,324.07 340.31,337.56 343.9,326.71 347.49,348.2 351.08,345.41 354.67,348.2 358.26,340.13 361.85,340.13 365.45,348.2 369.04,345.41 372.63,348.2 376.22,348.2 379.81,332.28 383.4,335 386.99,304.92 390.58,335 394.17,342.85 397.76,348.2 401.35,283.8 404.95,345.41 408.54,348.2 412.13,308.08 415.72,334.63 419.31,348.2 422.9,324.29 426.49,278.52 430.08,329.57 433.67,342.85 437.26,305.51 440.85,337.56 444.45,340.13 448.04,332.28 451.63,335" fill="none" stroke="#333" stroke-width="0.75"/><path d="M281.3 346.65h3.1v3.1h-3.1zM284.9 330.81h3.1v3.1h-3.1zM288.49 336.01h3.1v3.1h-3.1zM292.08 336.01h3.1v3.1h-3.1zM295.67 328.02h3.1v3.1h-3.1zM299.26 346.65h3.1v3.1h-3.1zM302.85 338.65h3.1v3.1h-3.1zM306.44 336.01h3.1v3.1h-3.1zM310.03 344.08h3.1v3.1h-3.1zM313.62 330.81h3.1v3.1h-3.1zM317.21 346.65h3.1v3.1h-3.1zM320.8 322.52h3.1v3.1h-3.1zM324.4 338.8h3.1v3.1h-3.1zM327.99 343.86h3.1v3.1h-3.1zM331.58 314.67h3.1v3.1h-3.1zM335.17 322.52h3.1v3.1h-3.1zM338.76 336.01h3.1v3.1h-3.1zM342.35 325.16h3.1v3.1h-3.1zM345.94 346.65h3.1v3.1h-3.1zM349.53 343.86h3.1v3.1h-3.1zM353.12 346.65h3.1v3.1h-3.1zM356.71 338.58h3.1v3.1h-3.1zM360.3 338.58h3.1v3.1h-3.1zM363.9 346.65h3.1v3.1h-3.1zM367.49 343.86h3.1v3.1h-3.1zM371.08 346.65h3.1v3.1h-3.1zM374.67 346.65h3.1v3.1h-3.1zM378.26 330.73h3.1v3.1h-3.1zM381.85 333.45h3.1v3.1h-3.1zM385.44 303.37h3.1v3.1h-3.1zM389.03 333.45h3.1v3.1h-3.1zM392.62 341.3h3.1v3.1h-3.1zM396.21 346.65h3.1v3.1h-3.1zM399.8 282.25h3.1v3.1h-3.1zM403.4 343.86h3.1v3.1h-3.1zM406.99 346.65h3.1v3.1h-3.1zM410.58 306.53h3.1v3.1h-3.1zM414.17 333.08h3.1v3.1h-3.1zM417.76 346.65h3.1v3.1h-3.1zM421.35 322.74h3.1v3.1h-3.1zM424.94 276.97h3.1v3.1h-3.1zM428.53 328.02h3.1v3.1h-3.1zM432.12 341.3h3.1v3.1h-3.1zM435.71 303.96h3.1v3.1h-3.1zM439.3 336.01h3.1v3.1h-3.1zM442.9 338.58h3.1v3.1h-3.1zM446.49 330.73h3.1v3.1h-3.1zM450.08 333.45h3.1v3.1h-3.1z" fill="#000"/><polyline points="282.85,348.2 286.45,348.2 290.04,348.2 293.63,334.78 297.22,345.63 300.81,348.2 304.4,343.07 307.99,348.2 311.58,334.78 315.17,297.44 318.76,340.2 322.35,265.46 325.95,348.2 329.54,348.2 333.13,337.93 336.72,342.85 340.31,313.43 343.9,318.86 347.49,348.2 351.08,348.2 354.67,348.2 358.26,342.85 361.85,348.2 365.45,348.2 369.04,326.71 372.63,348.2 376.22,348.2 379.81,340.42 383.4,337.56 386.99,243.82 390.58,348.2 394.17,329.57 397.76,348.2 401.35,286.73 404.95,342.85 408.54,348.2 412.13,348.2 415.72,326.93 419.31,348.2 422.9,281.52 426.49,233.26 430.08,348.2 433.67,334.56 437.26,217.12 440.85,337.56 444.45,329.57 448.04,348.2 451.63,332.28" fill="none" stroke="#f55" stroke-width="0.7"/><circle cx="282.85" cy="348.2" r="1.9" fill="#f00"/><circle cx="286.45" cy="348.2" r="1.9" fill="#f00"/><circle cx="290.04" cy="348.2" r="1.9" fill="#f00"/><circle cx="293.63" cy="334.78" r="1.9" fill="#f00"/><circle cx="297.22" cy="345.63" r="1.9" fill="#f00"/><circle cx="300.81" cy="348.2" r="1.9" fill="#f00"/><circle cx="304.4" cy="343.07" r="1.9" fill="#f00"/><circle cx="307.99" cy="348.2" r="1.9" fill="#f00"/><circle cx="311.58" cy="334.78" r="1.9" fill="#f00"/><circle cx="315.17" cy="297.44" r="1.9" fill="#f00"/><circle cx="318.76" cy="340.2" r="1.9" fill="#f00"/><circle cx="322.35" cy="265.46" r="1.9" fill="#f00"/><circle cx="325.95" cy="348.2" r="1.9" fill="#f00"/><circle cx="329.54" cy="348.2" r="1.9" fill="#f00"/><circle cx="333.13" cy="337.93" r="1.9" fill="#f00"/><circle cx="336.72" cy="342.85" r="1.9" fill="#f00"/><circle cx="340.31" cy="313.43" r="1.9" fill="#f00"/><circle cx="343.9" cy="318.86" r="1.9" fill="#f00"/><circle cx="347.49" cy="348.2" r="1.9" fill="#f00"/><circle cx="351.08" cy="348.2" r="1.9" fill="#f00"/><circle cx="354.67" cy="348.2" r="1.9" fill="#f00"/><circle cx="358.26" cy="342.85" r="1.9" fill="#f00"/><circle cx="361.85" cy="348.2" r="1.9" fill="#f00"/><circle cx="365.45" cy="348.2" r="1.9" fill="#f00"/><circle cx="369.04" cy="326.71" r="1.9" fill="#f00"/><circle cx="372.63" cy="348.2" r="1.9" fill="#f00"/><circle cx="376.22" cy="348.2" r="1.9" fill="#f00"/><circle cx="379.81" cy="340.42" r="1.9" fill="#f00"/><circle cx="383.4" cy="337.56" r="1.9" fill="#f00"/><circle cx="386.99" cy="243.82" r="1.9" fill="#f00"/><circle cx="390.58" cy="348.2" r="1.9" fill="#f00"/><circle cx="394.17" cy="329.57" r="1.9" fill="#f00"/><circle cx="397.76" cy="348.2" r="1.9" fill="#f00"/><circle cx="401.35" cy="286.73" r="1.9" fill="#f00"/><circle cx="404.95" cy="342.85" r="1.9" fill="#f00"/><circle cx="408.54" cy="348.2" r="1.9" fill="#f00"/><circle cx="412.13" cy="348.2" r="1.9" fill="#f00"/><circle cx="415.72" cy="326.93" r="1.9" fill="#f00"/><circle cx="419.31" cy="348.2" r="1.9" fill="#f00"/><circle cx="422.9" cy="281.52" r="1.9" fill="#f00"/><circle cx="426.49" cy="233.26" r="1.9" fill="#f00"/><circle cx="430.08" cy="348.2" r="1.9" fill="#f00"/><circle cx="433.67" cy="334.56" r="1.9" fill="#f00"/><circle cx="437.26" cy="217.12" r="1.9" fill="#f00"/><circle cx="440.85" cy="337.56" r="1.9" fill="#f00"/><circle cx="444.45" cy="329.57" r="1.9" fill="#f00"/><circle cx="448.04" cy="348.2" r="1.9" fill="#f00"/><circle cx="451.63" cy="332.28" r="1.9" fill="#f00"/></g></g><line x1="521" y1="274.5" x2="547" y2="274.5" stroke="#222" stroke-width="1"/><rect x="532" y="272" width="5" height="5" fill="#000"/><text x="550" y="277.6" font-size="18.4" fill="#111">QTP</text><line x1="521" y1="296.5" x2="547" y2="296.5" stroke="#f22" stroke-width="1"/><circle cx="534.3" cy="296.5" r="2.7" fill="#f00"/><text x="550" y="300.2" font-size="18.4" fill="#111">Surrounding areas</text></svg></body></html>
